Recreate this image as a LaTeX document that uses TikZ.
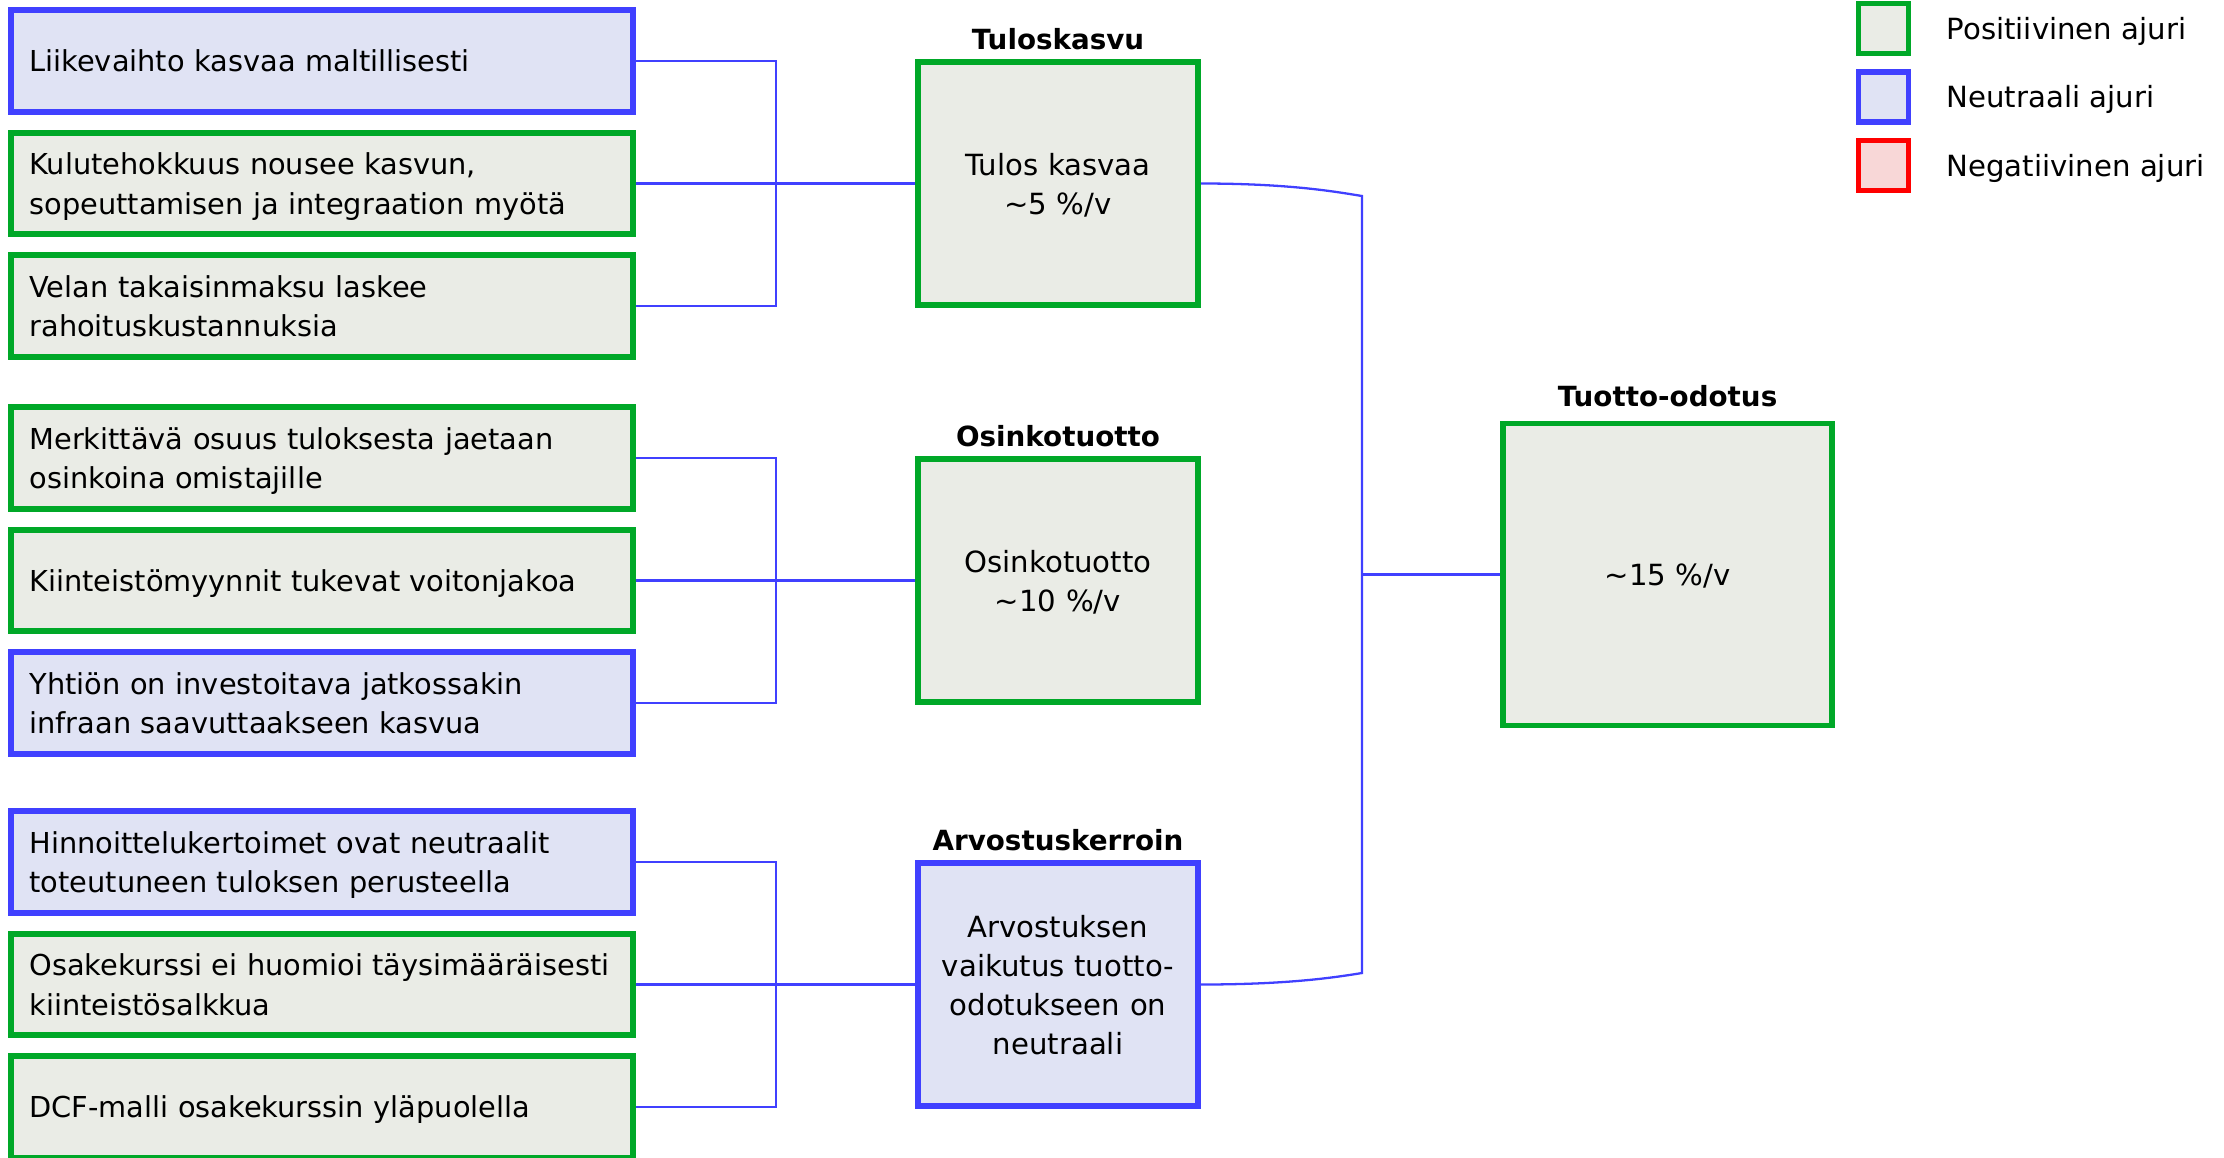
\documentclass[tikz,border=0pt]{standalone}
\usepackage{fontspec}
\setmainfont{DejaVu Sans}
\usepackage{tikz}
\usetikzlibrary{positioning, calc}
\definecolor{posline}{RGB}{0,168,40}
\definecolor{posfill}{RGB}{234,236,230}
\definecolor{neuline}{RGB}{64,64,255}
\definecolor{neufill}{RGB}{224,227,244}
\definecolor{negline}{RGB}{255,0,0}
\definecolor{negfill}{RGB}{248,215,215}
\tikzset{
  posdrv/.style ={draw=posline, fill=posfill},
  neudrv/.style ={draw=neuline, fill=neufill},
  negdrv/.style ={draw=negline, fill=negfill},
  drvbox/.style ={rectangle, line width=3.2pt, text width=11.7cm, inner xsep=0.37cm, minimum height=2.03cm, text depth=0pt, align=left, font=\fontsize{16.4}{22.4}\selectfont},
  twolines/.style={text depth=22.4pt},
  partbox/.style={rectangle, line width=3.2pt, minimum width=5.61cm, minimum height=4.87cm, text width=5.1cm, align=center, font=\fontsize{16.6}{22.2}\selectfont, label distance=10pt},
  resbox/.style ={rectangle, line width=3.2pt, minimum width=6.58cm, minimum height=6.04cm, text depth=0pt, align=center, font=\fontsize{16.6}{22.2}\selectfont, label distance=10pt},
  ttl/.style    ={font=\fontsize{15.8}{18}\selectfont\bfseries, inner sep=2pt, yshift=3.2pt},
  lgd/.style    ={rectangle, line width=3.2pt, minimum size=1.0cm},
  lgdtxt/.style ={font=\fontsize{16.6}{20}\selectfont, inner sep=0pt},
  ln/.style     ={draw=neuline, line width=1.3pt},
}

\begin{document}
\begin{tikzpicture}
\useasboundingbox (0,0) rectangle (44.48,-23.14);

% ajurit
\node[drvbox, neudrv] (lv) at (6.44,-1.22) {Liikevaihto kasvaa maltillisesti};
\node[drvbox, posdrv, twolines] (kt) at (6.44,-3.67) {Kulutehokkuus nousee kasvun,\\ sopeuttamisen ja integraation myötä};
\node[drvbox, posdrv, twolines] (vel) at (6.44,-6.12) {Velan takaisinmaksu laskee\\ rahoituskustannuksia};
\node[drvbox, posdrv, twolines] (osuus) at (6.44,-9.16) {Merkittävä osuus tuloksesta jaetaan\\ osinkoina omistajille};
\node[drvbox, posdrv] (kiint) at (6.44,-11.61) {Kiinteistömyynnit tukevat voitonjakoa};
\node[drvbox, neudrv, twolines] (inv) at (6.44,-14.06) {Yhtiön on investoitava jatkossakin\\ infraan saavuttaakseen kasvua};
\node[drvbox, neudrv, twolines] (hinn) at (6.44,-17.24) {Hinnoittelukertoimet ovat neutraalit\\ toteutuneen tuloksen perusteella};
\node[drvbox, posdrv, twolines] (osake) at (6.44,-19.69) {Osakekurssi ei huomioi täysimääräisesti\\ kiinteistösalkkua};
\node[drvbox, posdrv] (dcf) at (6.44,-22.14) {DCF-malli osakekurssin yläpuolella};

% tuoton osat
\node[partbox, posdrv, text depth=22.2pt, label={[ttl]above:Tuloskasvu}] (tulos) at (21.16,-3.67) {Tulos kasvaa\\\textasciitilde5 \%/v};
\node[partbox, posdrv, text depth=22.2pt, label={[ttl]above:Osinkotuotto}] (osinko) at (21.16,-11.61) {Osinkotuotto\\\textasciitilde10 \%/v};
\node[partbox, neudrv, text depth=66.6pt, label={[ttl]above:Arvostuskerroin}] (arvo) at (21.16,-19.69) {Arvostuksen\\vaikutus tuotto-\\odotukseen on\\neutraali};

% tuotto-odotus
\node[resbox, posdrv, label={[ttl, yshift=2.4pt]above:Tuotto-odotus}] (tuotto) at (33.35,-11.49) {\textasciitilde15 \%/v};

% selite
\node[lgd, posdrv] (legpos) at (37.67,-0.57) {};
\node[lgd, neudrv] (legneu) at (37.67,-1.94) {};
\node[lgd, negdrv] (legneg) at (37.67,-3.31) {};
\node[lgdtxt, anchor=base west] (txtpos) at ($(legpos.east)+(0.7,-0.21)$) {Positiivinen ajuri};
\node[lgdtxt, anchor=base west] (txtneu) at ($(legneu.east)+(0.7,-0.21)$) {Neutraali ajuri};
\node[lgdtxt, anchor=base west] (txtneg) at ($(legneg.east)+(0.7,-0.21)$) {Negatiivinen ajuri};

% haarukat
\coordinate (brx) at (15.52,0);
\draw[ln] (lv.east) -| (brx |- vel.east) -- (vel.east);
\draw[ln] (kt.east) -- (tulos.west);
\draw[ln] (osuus.east) -| (brx |- inv.east) -- (inv.east);
\draw[ln] (kiint.east) -- (osinko.west);
\draw[ln] (hinn.east) -| (brx |- dcf.east) -- (dcf.east);
\draw[ln] (osake.east) -- (arvo.west);

% oikea haarukka
\coordinate (rt) at (27.24,-3.92);
\coordinate (rb) at (27.24,-19.46);
\draw[ln] (tulos.east) .. controls +(1.8,0) and +(-0.5,0.08) .. (rt) -- (rb)
  .. controls +(-0.5,-0.08) and +(1.8,0) .. (arvo.east);
\draw[ln] (rt |- tuotto.west) -- (tuotto.west);

\end{tikzpicture}
\end{document}
